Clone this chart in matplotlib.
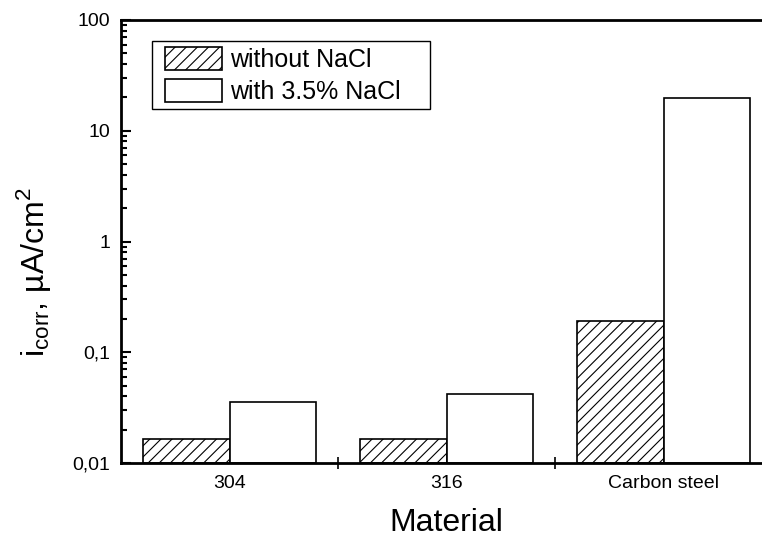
import matplotlib
matplotlib.use("Agg")
import matplotlib.pyplot as plt
from matplotlib.ticker import FixedLocator, FixedFormatter, LogLocator, NullFormatter
from matplotlib.patches import Patch, Rectangle
import numpy as np

plt.rcParams['font.family'] = ['Liberation Sans', 'DejaVu Sans']
plt.rcParams['hatch.linewidth'] = 0.8

materials = ["304", "316", "Carbon steel"]
without_nacl = [0.0165, 0.0165, 0.19]
with_nacl = [0.0357, 0.0423, 19.9]
y_ticks = [0.01, 0.1, 1, 10, 100]
y_tick_labels = ["0,01", "0,1", "1", "10", "100"]
series_labels = ["without NaCl", "with 3.5% NaCl"]

fig = plt.figure(figsize=(7.62, 5.38), dpi=100)
W, H = 762, 538
ax = fig.add_axes([121 / W, (H - 463) / H, (772 - 121) / W, (463 - 20) / H])

base = 0.01
x = np.arange(len(materials)) + 0.5
bw = 0.4
ax.bar(x - bw / 2, np.array(without_nacl) - base, width=bw, bottom=base, facecolor='white',
       edgecolor='black', hatch='///', linewidth=1.2)
ax.bar(x + bw / 2, np.array(with_nacl) - base, width=bw, bottom=base, facecolor='white',
       edgecolor='black', linewidth=1.2)

ax.set_yscale('log')
ax.set_ylim(0.01, 100)
ax.set_xlim(0, 3)

ax.yaxis.set_major_locator(FixedLocator(y_ticks))
ax.yaxis.set_major_formatter(FixedFormatter(y_tick_labels))
ax.yaxis.set_minor_locator(LogLocator(base=10, subs=np.arange(2, 10)))
ax.yaxis.set_minor_formatter(NullFormatter())
ax.tick_params(axis='y', which='major', direction='in', length=7.5, width=1.5, labelsize=14, pad=8)
ax.tick_params(axis='y', which='minor', direction='in', length=4.5, width=1.5)

ax.xaxis.set_major_locator(FixedLocator([1, 2]))
ax.xaxis.set_major_formatter(NullFormatter())
ax.xaxis.set_minor_locator(FixedLocator(x))
ax.xaxis.set_minor_formatter(FixedFormatter(materials))
ax.tick_params(axis='x', which='major', direction='inout', length=8, width=1.2)
ax.tick_params(axis='x', which='minor', length=0, labelsize=14, pad=9)

for s in ['left', 'bottom', 'top']:
    ax.spines[s].set_linewidth(2)
ax.spines['right'].set_visible(False)

ax.set_xlabel("Material", fontsize=23, labelpad=11)
ax.set_ylabel(r"i$_{\mathregular{corr}}$, µA/cm$^{\mathregular{2}}$", fontsize=23)
ax.yaxis.set_label_coords(-0.105, 0.43)

# legend frame (drawn separately to get the wider right-hand padding)
fig.patches.append(Rectangle((152 / W, (H - 109) / H), (430 - 152) / W, (109 - 41) / H,
                             transform=fig.transFigure, facecolor='white', edgecolor='black',
                             linewidth=1.0, zorder=4))

handles = [Patch(facecolor='white', edgecolor='black', hatch='///', linewidth=1.2),
           Patch(facecolor='white', edgecolor='black', linewidth=1.2)]
leg = fig.legend(handles, series_labels, loc='upper left',
                 bbox_to_anchor=(165 / W, (H - 47) / H), bbox_transform=fig.transFigure,
                 fontsize=18, frameon=False,
                 handlelength=2.28, handleheight=1.02, handletextpad=0.32, borderpad=0,
                 labelspacing=0.3, borderaxespad=0)
leg.set_zorder(5)

fig.savefig("out.png", dpi=100)
